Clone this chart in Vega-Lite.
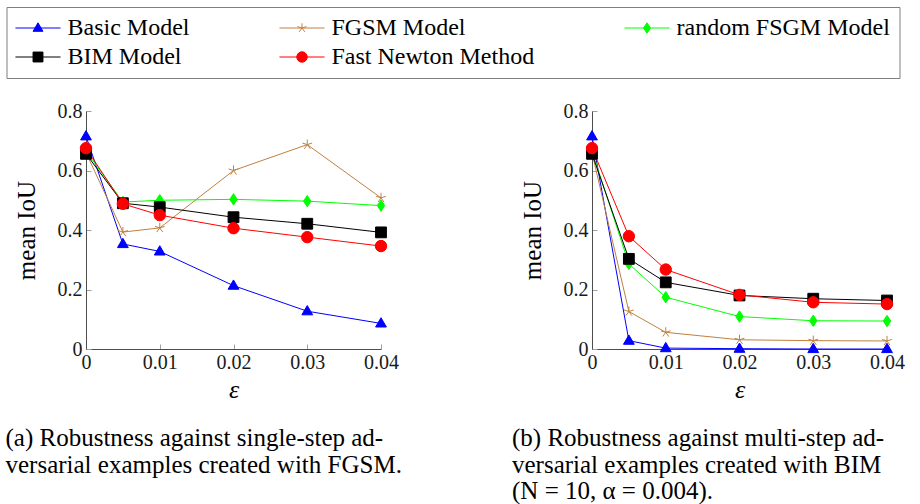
{
  "$schema": "https://vega.github.io/schema/vega-lite/v6.json",
  "background": "white",
  "padding": {"left": 5, "top": 6, "right": 0, "bottom": 0},
  "autosize": {"type": "pad"},
  "config": {
    "font": "Liberation Serif",
    "view": {"stroke": null},
    "axis": {
      "grid": false,
      "domainColor": "#4d4d4d",
      "domainWidth": 1,
      "tickColor": "#a0a0a0",
      "tickWidth": 1,
      "tickSize": -5,
      "labelFlush": false,
      "labelFont": "Liberation Serif",
      "labelFontSize": 20,
      "labelColor": "#1a1a1a",
      "titleFont": "Liberation Serif",
      "titleFontWeight": "normal",
      "titleColor": "black"
    },
    "axisX": {"titlePadding": 4, "labelPadding": 8, "titleFontSize": 26},
    "axisY": {"titlePadding": 18, "labelPadding": 9, "titleFontSize": 25},
    "legend": {
      "orient": "none",
      "legendX": -79.5,
      "legendY": -104,
      "direction": "horizontal",
      "columns": 3,
      "columnPadding": 87,
      "rowPadding": 5,
      "padding": 9,
      "strokeColor": "#7f7f7f",
      "labelFont": "Liberation Serif",
      "labelFontSize": 24,
      "labelColor": "black",
      "labelLimit": 400,
      "labelOffset": 17.5,
      "symbolSize": 121,
      "symbolStrokeWidth": 1,
      "symbolOffset": 10.5
    }
  },
  "datasets": {
    "d": [
      {"panel": "a", "model": "Basic Model", "eps": 0, "iou": 0.715},
      {"panel": "a", "model": "Basic Model", "eps": 0.005, "iou": 0.353},
      {"panel": "a", "model": "Basic Model", "eps": 0.01, "iou": 0.328},
      {"panel": "a", "model": "Basic Model", "eps": 0.02, "iou": 0.213},
      {"panel": "a", "model": "Basic Model", "eps": 0.03, "iou": 0.127},
      {"panel": "a", "model": "Basic Model", "eps": 0.04, "iou": 0.086},
      {"panel": "a", "model": "FGSM Model", "eps": 0, "iou": 0.66},
      {"panel": "a", "model": "FGSM Model", "eps": 0.005, "iou": 0.393},
      {"panel": "a", "model": "FGSM Model", "eps": 0.01, "iou": 0.407},
      {"panel": "a", "model": "FGSM Model", "eps": 0.02, "iou": 0.6},
      {"panel": "a", "model": "FGSM Model", "eps": 0.03, "iou": 0.687},
      {"panel": "a", "model": "FGSM Model", "eps": 0.04, "iou": 0.508},
      {"panel": "a", "model": "random FSGM Model", "eps": 0, "iou": 0.665},
      {"panel": "a", "model": "random FSGM Model", "eps": 0.005, "iou": 0.494},
      {"panel": "a", "model": "random FSGM Model", "eps": 0.01, "iou": 0.5},
      {"panel": "a", "model": "random FSGM Model", "eps": 0.02, "iou": 0.503},
      {"panel": "a", "model": "random FSGM Model", "eps": 0.03, "iou": 0.497},
      {"panel": "a", "model": "random FSGM Model", "eps": 0.04, "iou": 0.482},
      {"panel": "a", "model": "BIM Model", "eps": 0, "iou": 0.656},
      {"panel": "a", "model": "BIM Model", "eps": 0.005, "iou": 0.49},
      {"panel": "a", "model": "BIM Model", "eps": 0.01, "iou": 0.477},
      {"panel": "a", "model": "BIM Model", "eps": 0.02, "iou": 0.443},
      {"panel": "a", "model": "BIM Model", "eps": 0.03, "iou": 0.421},
      {"panel": "a", "model": "BIM Model", "eps": 0.04, "iou": 0.392},
      {"panel": "a", "model": "Fast Newton Method", "eps": 0, "iou": 0.675},
      {"panel": "a", "model": "Fast Newton Method", "eps": 0.005, "iou": 0.488},
      {"panel": "a", "model": "Fast Newton Method", "eps": 0.01, "iou": 0.45},
      {"panel": "a", "model": "Fast Newton Method", "eps": 0.02, "iou": 0.406},
      {"panel": "a", "model": "Fast Newton Method", "eps": 0.03, "iou": 0.376},
      {"panel": "a", "model": "Fast Newton Method", "eps": 0.04, "iou": 0.346},
      {"panel": "b", "model": "Basic Model", "eps": 0, "iou": 0.715},
      {"panel": "b", "model": "Basic Model", "eps": 0.005, "iou": 0.028},
      {"panel": "b", "model": "Basic Model", "eps": 0.01, "iou": 0.003},
      {"panel": "b", "model": "Basic Model", "eps": 0.02, "iou": 0.001},
      {"panel": "b", "model": "Basic Model", "eps": 0.03, "iou": 0.0},
      {"panel": "b", "model": "Basic Model", "eps": 0.04, "iou": 0.0},
      {"panel": "b", "model": "FGSM Model", "eps": 0, "iou": 0.66},
      {"panel": "b", "model": "FGSM Model", "eps": 0.005, "iou": 0.126},
      {"panel": "b", "model": "FGSM Model", "eps": 0.01, "iou": 0.056},
      {"panel": "b", "model": "FGSM Model", "eps": 0.02, "iou": 0.031},
      {"panel": "b", "model": "FGSM Model", "eps": 0.03, "iou": 0.028},
      {"panel": "b", "model": "FGSM Model", "eps": 0.04, "iou": 0.027},
      {"panel": "b", "model": "random FSGM Model", "eps": 0, "iou": 0.665},
      {"panel": "b", "model": "random FSGM Model", "eps": 0.005, "iou": 0.286},
      {"panel": "b", "model": "random FSGM Model", "eps": 0.01, "iou": 0.174},
      {"panel": "b", "model": "random FSGM Model", "eps": 0.02, "iou": 0.109},
      {"panel": "b", "model": "random FSGM Model", "eps": 0.03, "iou": 0.095},
      {"panel": "b", "model": "random FSGM Model", "eps": 0.04, "iou": 0.094},
      {"panel": "b", "model": "BIM Model", "eps": 0, "iou": 0.656},
      {"panel": "b", "model": "BIM Model", "eps": 0.005, "iou": 0.303},
      {"panel": "b", "model": "BIM Model", "eps": 0.01, "iou": 0.224},
      {"panel": "b", "model": "BIM Model", "eps": 0.02, "iou": 0.18},
      {"panel": "b", "model": "BIM Model", "eps": 0.03, "iou": 0.169},
      {"panel": "b", "model": "BIM Model", "eps": 0.04, "iou": 0.163},
      {"panel": "b", "model": "Fast Newton Method", "eps": 0, "iou": 0.675},
      {"panel": "b", "model": "Fast Newton Method", "eps": 0.005, "iou": 0.379},
      {"panel": "b", "model": "Fast Newton Method", "eps": 0.01, "iou": 0.267},
      {"panel": "b", "model": "Fast Newton Method", "eps": 0.02, "iou": 0.182},
      {"panel": "b", "model": "Fast Newton Method", "eps": 0.03, "iou": 0.157},
      {"panel": "b", "model": "Fast Newton Method", "eps": 0.04, "iou": 0.151}
    ]
  },
  "bounds": "flush",
  "spacing": 211,
  "hconcat": [
    {
      "width": 295,
      "height": 238,
      "data": {"name": "d"},
      "transform": [{"filter": "datum.panel === 'a'"}],
      "title": {
        "text": ["(a) Robustness against single-step ad-", "versarial examples created with FGSM."],
        "orient": "bottom",
        "anchor": "start",
        "frame": "group",
        "dx": -80.5,
        "offset": 24,
        "font": "Liberation Serif",
        "fontSize": 25,
        "fontWeight": "normal",
        "lineHeight": 26.5,
        "color": "black"
      },
      "encoding": {
        "x": {"field": "eps", "type": "quantitative", "scale": {"domain": [0, 0.04], "nice": false, "zero": false},
              "axis": {"title": "ε", "titleFontStyle": "italic", "values": [0, 0.01, 0.02, 0.03, 0.04], "labelExpr": "datum.value == 0 ? '0' : format(datum.value, '.2f')"}},
        "y": {"field": "iou", "type": "quantitative", "scale": {"domain": [0, 0.8], "nice": false},
              "axis": {"title": "mean IoU", "values": [0, 0.2, 0.4, 0.6, 0.8], "labelExpr": "datum.value == 0 ? '0' : format(datum.value, '.1f')"}}
      },
      "layer": [
        {
          "mark": {"type": "line", "strokeWidth": 1},
          "encoding": {
            "stroke": {"field": "model", "type": "nominal", "scale": {"domain": ["Basic Model", "FGSM Model", "random FSGM Model", "BIM Model", "Fast Newton Method"], "range": ["#0000ff", "#bf8040", "#00ff00", "#000000", "#ff0000"]},
              "legend": {"title": null, "encoding": {"symbols": {"shape": {"value": {"expr": "datum.value === 'Basic Model' ? 'M-4.1,0L4.1,0M0,-0.95L0.9,0.6L-0.9,0.6Z' : datum.value === 'FGSM Model' ? 'M-4.1,0L4.1,0M0,0L0,-0.85M0,0L0.81,-0.26M0,0L0.5,0.69M0,0L-0.5,0.69M0,0L-0.81,-0.26' : datum.value === 'random FSGM Model' ? 'M-4.1,0L4.1,0M0,-0.95L0.62,0L0,0.95L-0.62,0Z' : datum.value === 'BIM Model' ? 'M-4.1,0L4.1,0M-0.9,-0.9L0.9,-0.9L0.9,0.9L-0.9,0.9Z' : 'M-4.1,0L4.1,0M0.95,0C0.95,0.525,0.525,0.95,0,0.95C-0.525,0.95,-0.95,0.525,-0.95,0C-0.95,-0.525,-0.525,-0.95,0,-0.95C0.525,-0.95,0.95,-0.525,0.95,0Z'"}}}}}}
          }
        },
        {
          "mark": {"type": "point", "filled": true, "size": 144, "strokeWidth": 1, "opacity": 1},
          "encoding": {
            "fill": {"field": "model", "type": "nominal", "scale": {"domain": ["Basic Model", "FGSM Model", "random FSGM Model", "BIM Model", "Fast Newton Method"], "range": ["#0000ff", "#bf8040", "#00ff00", "#000000", "#ff0000"]},
              "legend": {"title": null, "encoding": {"symbols": {"shape": {"value": {"expr": "datum.value === 'Basic Model' ? 'M-4.1,0L4.1,0M0,-0.95L0.9,0.6L-0.9,0.6Z' : datum.value === 'FGSM Model' ? 'M-4.1,0L4.1,0M0,0L0,-0.85M0,0L0.81,-0.26M0,0L0.5,0.69M0,0L-0.5,0.69M0,0L-0.81,-0.26' : datum.value === 'random FSGM Model' ? 'M-4.1,0L4.1,0M0,-0.95L0.62,0L0,0.95L-0.62,0Z' : datum.value === 'BIM Model' ? 'M-4.1,0L4.1,0M-0.9,-0.9L0.9,-0.9L0.9,0.9L-0.9,0.9Z' : 'M-4.1,0L4.1,0M0.95,0C0.95,0.525,0.525,0.95,0,0.95C-0.525,0.95,-0.95,0.525,-0.95,0C-0.95,-0.525,-0.525,-0.95,0,-0.95C0.525,-0.95,0.95,-0.525,0.95,0Z'"}}}}}},
            "stroke": {"field": "model", "type": "nominal",
              "legend": {"title": null, "encoding": {"symbols": {"shape": {"value": {"expr": "datum.value === 'Basic Model' ? 'M-4.1,0L4.1,0M0,-0.95L0.9,0.6L-0.9,0.6Z' : datum.value === 'FGSM Model' ? 'M-4.1,0L4.1,0M0,0L0,-0.85M0,0L0.81,-0.26M0,0L0.5,0.69M0,0L-0.5,0.69M0,0L-0.81,-0.26' : datum.value === 'random FSGM Model' ? 'M-4.1,0L4.1,0M0,-0.95L0.62,0L0,0.95L-0.62,0Z' : datum.value === 'BIM Model' ? 'M-4.1,0L4.1,0M-0.9,-0.9L0.9,-0.9L0.9,0.9L-0.9,0.9Z' : 'M-4.1,0L4.1,0M0.95,0C0.95,0.525,0.525,0.95,0,0.95C-0.525,0.95,-0.95,0.525,-0.95,0C-0.95,-0.525,-0.525,-0.95,0,-0.95C0.525,-0.95,0.95,-0.525,0.95,0Z'"}}}}}},
            "shape": {"field": "model", "type": "nominal",
              "scale": {"domain": ["Fast Newton Method", "BIM Model", "random FSGM Model", "FGSM Model", "Basic Model"],
                        "range": ["M0.95,0C0.95,0.525,0.525,0.95,0,0.95C-0.525,0.95,-0.95,0.525,-0.95,0C-0.95,-0.525,-0.525,-0.95,0,-0.95C0.525,-0.95,0.95,-0.525,0.95,0Z", "M-0.9,-0.9L0.9,-0.9L0.9,0.9L-0.9,0.9Z", "M0,-0.95L0.62,0L0,0.95L-0.62,0Z", "M0,0L0,-0.85M0,0L0.81,-0.26M0,0L0.5,0.69M0,0L-0.5,0.69M0,0L-0.81,-0.26", "M0,-0.95L0.9,0.6L-0.9,0.6Z"]},
              "legend": null}
          }
        }
      ]
    },
    {
      "width": 295,
      "height": 238,
      "data": {"name": "d"},
      "transform": [{"filter": "datum.panel === 'b'"}],
      "title": {
        "text": ["(b) Robustness against multi-step ad-", "versarial examples created with BIM", "(N = 10, α = 0.004)."],
        "orient": "bottom",
        "anchor": "start",
        "frame": "group",
        "dx": -80,
        "offset": 24,
        "font": "Liberation Serif",
        "fontSize": 25,
        "fontWeight": "normal",
        "lineHeight": 26.5,
        "color": "black"
      },
      "encoding": {
        "x": {"field": "eps", "type": "quantitative", "scale": {"domain": [0, 0.04], "nice": false, "zero": false},
              "axis": {"title": "ε", "titleFontStyle": "italic", "values": [0, 0.01, 0.02, 0.03, 0.04], "labelExpr": "datum.value == 0 ? '0' : format(datum.value, '.2f')"}},
        "y": {"field": "iou", "type": "quantitative", "scale": {"domain": [0, 0.8], "nice": false},
              "axis": {"title": "mean IoU", "values": [0, 0.2, 0.4, 0.6, 0.8], "labelExpr": "datum.value == 0 ? '0' : format(datum.value, '.1f')"}}
      },
      "layer": [
        {
          "mark": {"type": "line", "strokeWidth": 1},
          "encoding": {
            "stroke": {"field": "model", "type": "nominal", "legend": {"title": null}}
          }
        },
        {
          "mark": {"type": "point", "filled": true, "size": 144, "strokeWidth": 1, "opacity": 1},
          "encoding": {
            "fill": {"field": "model", "type": "nominal", "legend": {"title": null}},
            "stroke": {"field": "model", "type": "nominal", "legend": {"title": null}},
            "shape": {"field": "model", "type": "nominal", "legend": null}
          }
        }
      ]
    }
  ]
}
